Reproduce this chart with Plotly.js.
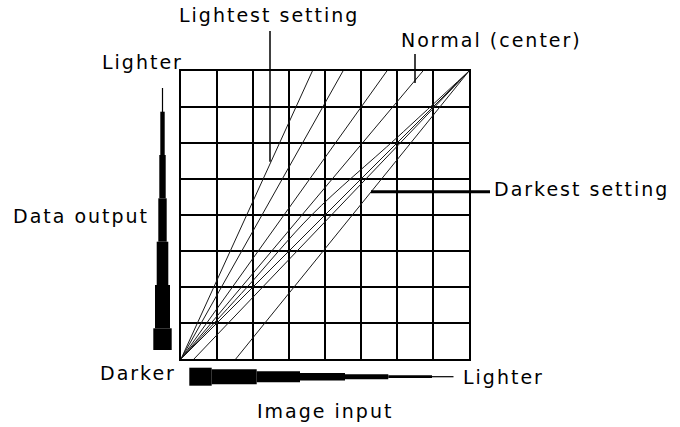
<!DOCTYPE html>
<html>
<head>
<meta charset="utf-8">
<script src="https://cdn.plot.ly/plotly-3.0.1.min.js"></script>
<style>
  html, body { margin: 0; padding: 0; background: #fff; }
  #chart { width: 680px; height: 427px; }
</style>
</head>
<body>
<div id="chart"></div>
<script>
// ---- data (grid units: 0..8 on both axes) ----
const seriesNames = ['Lightest setting', 'Lighter 2', 'Lighter 3', 'Normal (center)',
                     'Slightly darker', 'Linear', 'Darker', 'Darkest setting'];
const seriesX = [
  [0, 3.65], [0, 4.5], [0, 5.72], [0, 6.72],
  [0, 1.84, 3.63, 6.0, 8], [0, 8], [0.36, 8], [1.52, 8]
];
const seriesY = [
  [0, 8], [0, 8], [0, 8], [0, 8],
  [0, 2, 4, 6.15, 8], [0, 8], [0, 8], [0, 8]
];
const gridMax = 8;
const labelTexts = ['Lightest setting', 'Normal (center)', 'Darkest setting',
                    'Lighter', 'Data output', 'Darker', 'Lighter', 'Image input'];

// ---- geometry helpers (pixel -> paper) ----
const L = 181, R = 469, T = 71, B = 359, W = 680, H = 427;
const px = v => (v - L) / (R - L);
const py = v => (B - v) / (B - T);

const traces = seriesX.map((xs, i) => ({
  type: 'scatter', mode: 'lines', name: seriesNames[i],
  x: xs, y: seriesY[i],
  line: { color: '#1a1a1a', width: 1, shape: xs.length > 2 ? 'spline' : 'linear' },
  hoverinfo: 'skip', cliponaxis: true
}));

const shapes = [];
function rect(x0, x1, y0, y1) {
  shapes.push({ type: 'rect', xref: 'paper', yref: 'paper',
    x0: px(x0), x1: px(x1), y0: py(y1), y1: py(y0),
    fillcolor: '#000', line: { width: 0 }, layer: 'above' });
}
function line(x0, y0, x1, y1, w) {
  shapes.push({ type: 'line', xref: 'paper', yref: 'paper',
    x0: px(x0), y0: py(y0), x1: px(x1), y1: py(y1),
    line: { color: '#000', width: w }, layer: 'above' });
}
// vertical wedge (Data output)
const vc = 162.5;
line(vc, 88, vc, 112, 1.2);
[[111.7, 155, 4.4], [155, 198.3, 6.4], [198.3, 241.7, 8.4],
 [241.7, 285, 11.6], [285, 328.3, 15], [328.3, 350, 18.4]]
 .forEach(s => rect(vc - s[2] / 2, vc + s[2] / 2, s[0], s[1]));
// horizontal wedge (Image input)
const hc = 376.7;
line(431, hc, 453.5, hc, 1.2);
[[189.3, 211.7, 18], [211.7, 256.7, 15], [256.7, 300, 11],
 [300, 345, 7.6], [345, 388.3, 5], [388.3, 432, 2.8]]
 .forEach(s => rect(s[0], s[1], hc - s[2] / 2, hc + s[2] / 2));
// leader lines
line(270, 31, 270, 161.7, 1.5);
line(415, 54, 415, 83, 1.5);
line(371, 191.7, 490, 191.7, 3);

const fnt = { family: 'DejaVu Sans, sans-serif', size: 19, color: '#000' };
const labelPos = [
  [269, 15], [491, 40], [581, 189],
  [142.5, 62], [81, 216], [138, 373],
  [503, 377], [325, 411]
];
const annotations = labelTexts.map((t, i) => ({
  text: t, xref: 'paper', yref: 'paper',
  x: px(labelPos[i][0]), y: py(labelPos[i][1]),
  xanchor: 'center', yanchor: 'middle',
  showarrow: false, font: fnt
}));

const axis = {
  range: [0, gridMax], dtick: 1, tick0: 0, showgrid: true,
  gridcolor: '#000', gridwidth: 2, zeroline: false,
  showticklabels: false, ticks: '', showline: true, mirror: true,
  linecolor: '#000', linewidth: 2, fixedrange: true
};

Plotly.newPlot('chart', traces, {
  width: W, height: H,
  margin: { l: L, r: W - R, t: T, b: H - B, pad: 0 },
  paper_bgcolor: '#fff', plot_bgcolor: '#fff',
  showlegend: false,
  xaxis: Object.assign({}, axis),
  yaxis: Object.assign({}, axis),
  shapes: shapes,
  annotations: annotations
}, { staticPlot: true, displayModeBar: false }).then(gd => {
  gd.querySelectorAll('.annotation-text').forEach(t => {
    t.style.letterSpacing = '2px';
  });
});
</script>
</body>
</html>
